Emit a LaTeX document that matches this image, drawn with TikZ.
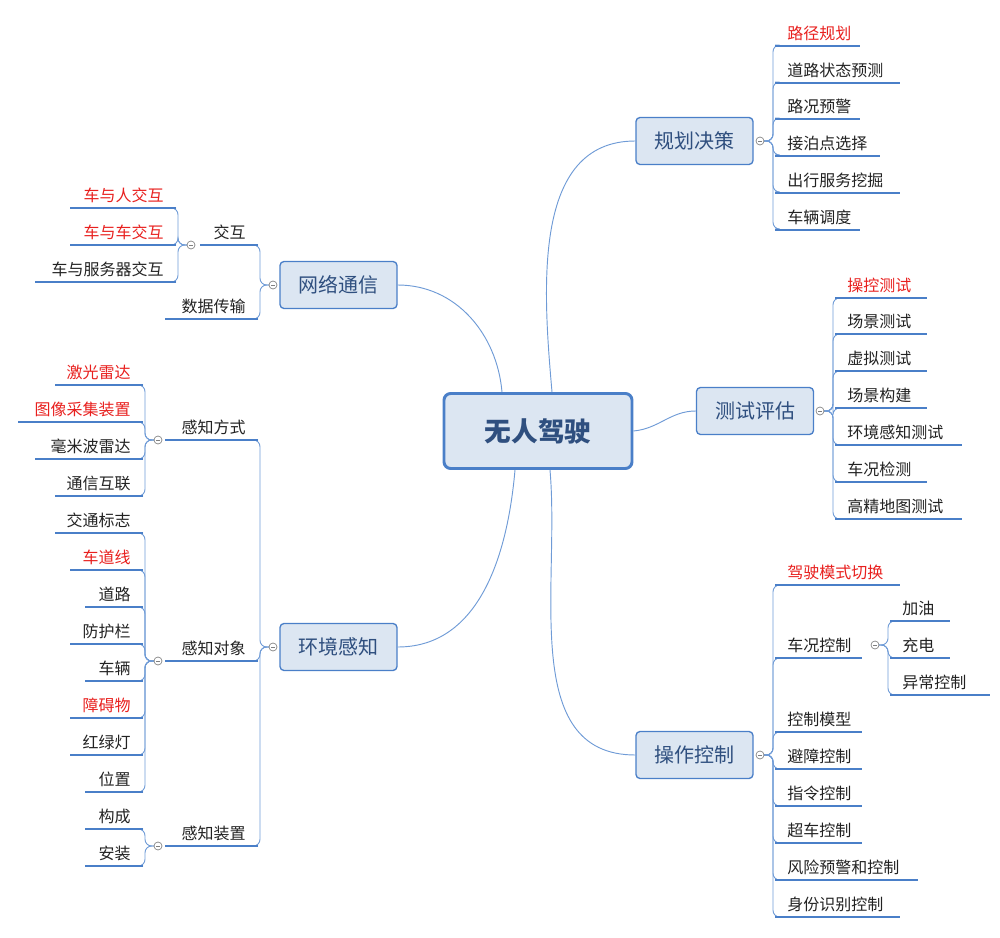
\documentclass[tikz,border=0pt]{standalone}
\usepackage{fontspec}
\setmainfont{Noto Sans CJK SC}
\definecolor{bl}{HTML}{4A7FC8}
\definecolor{tl}{HTML}{6F9BD6}
\definecolor{bf}{HTML}{DCE6F2}
\definecolor{rd}{HTML}{E8201E}
\definecolor{tx}{HTML}{222222}
\definecolor{ct}{HTML}{2F4F7F}
\tikzset{
 leaf/.style={font=\fontsize{12}{14}\selectfont,inner sep=0pt},
 uline/.style={bl,line width=1.3pt},
 trunk/.style={tl,line width=0.7pt,rounded corners=5},
 circ/.style={draw=gray,fill=white,line width=0.5pt},
 branch/.style={draw=bl,fill=bf,rounded corners=3,line width=1pt,minimum width=117*0.75pt,minimum height=47*0.75pt,font=\fontsize{15}{18}\selectfont,text=ct},
}
\newcommand\rleaf[6]{\node[leaf,text=#6,anchor=west] (#1) at (#2+12,#4) {#5};
 \draw[uline] (#2,#4+13) -- (#3,#4+13);}
\newcommand\lleaf[6]{\node[leaf,text=#6,anchor=east] (#1) at (#3-12,#4) {#5};
 \draw[uline] (#2,#4+13) -- (#3,#4+13);}
\newcommand\tr[5]{\draw[trunk] (#1,#2) -- (#3,#2) -- (#3,#5) -- (#4,#5);}
\newcommand\cmin[2]{\draw[circ] (#1,#2) circle (4); \draw[gray,line width=0.4pt] (#1-2,#2)--(#1+2,#2);}
\begin{document}
\begin{tikzpicture}[x=0.75pt,y=-0.75pt]
\useasboundingbox (0,0) rectangle (1000,938);
% center
\node[draw=bl,fill=bf,rounded corners=5,line width=2.2pt,minimum width=188*0.75pt,minimum height=75*0.75pt,font=\fontsize{20}{24}\selectfont\bfseries,text=ct] (c) at (538,431) {无人驾驶};
\node[branch] (plan) at (694.5,141) {规划决策};
\node[branch] (test) at (755,411) {测试评估};
\node[branch] (ctrl) at (694.5,755) {操作控制};
\node[branch] (net) at (338.5,285) {网络通信};
\node[branch] (env) at (338.5,647) {环境感知};
\draw[tl,line width=0.7pt] (552,392) to[out=95,in=180] (plan.west);
\draw[tl,line width=0.7pt] (c.east) to[out=5,in=180] (test.west);
\draw[tl,line width=0.7pt] (550,470) to[out=-85,in=180] (ctrl.west);
\draw[tl,line width=0.7pt] (502,392) to[out=95,in=0] (net.east);
\draw[tl,line width=0.7pt] (515,470) to[out=-95,in=0] (env.east);
% 规划决策
\foreach \y in {45,82,118,155,192,229} {\tr{760}{141}{773}{775}{\y}}
\rleaf{p1}{775}{860}{33}{路径规划}{rd}
\rleaf{p2}{775}{900}{70}{道路状态预测}{tx}
\rleaf{p3}{775}{860}{106}{路况预警}{tx}
\rleaf{p4}{775}{880}{143}{接泊点选择}{tx}
\rleaf{p5}{775}{900}{180}{出行服务挖掘}{tx}
\rleaf{p6}{775}{860}{217}{车辆调度}{tx}
\cmin{760}{141}
% 测试评估
\foreach \y in {298,334,371,408,445,482,519} {\tr{820}{411}{833}{835}{\y}}
\rleaf{t1}{835}{927}{285}{操控测试}{rd}
\rleaf{t2}{835}{927}{321}{场景测试}{tx}
\rleaf{t3}{835}{927}{358}{虚拟测试}{tx}
\rleaf{t4}{835}{927}{395}{场景构建}{tx}
\rleaf{t5}{835}{962}{432}{环境感知测试}{tx}
\rleaf{t6}{835}{927}{469}{车况检测}{tx}
\rleaf{t7}{835}{962}{506}{高精地图测试}{tx}
\cmin{820}{411}
% 操作控制
\foreach \y in {585,658,732,769,806,843,880,917} {\tr{760}{755}{773}{775}{\y}}
\rleaf{o1}{775}{900}{572}{驾驶模式切换}{rd}
\rleaf{o2}{775}{862}{645}{车况控制}{tx}
\rleaf{o3}{775}{862}{719}{控制模型}{tx}
\rleaf{o4}{775}{862}{756}{避障控制}{tx}
\rleaf{o5}{775}{862}{793}{指令控制}{tx}
\rleaf{o6}{775}{862}{830}{超车控制}{tx}
\rleaf{o7}{775}{918}{867}{风险预警和控制}{tx}
\rleaf{o8}{775}{900}{904}{身份识别控制}{tx}
\foreach \y in {621,658,695} {\tr{875}{645}{888}{890}{\y}}
\rleaf{o21}{890}{950}{608}{加油}{tx}
\rleaf{o22}{890}{950}{645}{充电}{tx}
\rleaf{o23}{890}{990}{682}{异常控制}{tx}
\cmin{760}{755}
\cmin{875}{645}
% 网络通信
\foreach \y in {245,319} {\tr{273}{285}{260}{258}{\y}}
\lleaf{n1}{200}{258}{232}{交互}{tx}
\lleaf{n2}{165}{258}{306}{数据传输}{tx}
\foreach \y in {208,245,282} {\tr{191}{245}{178}{176}{\y}}
\lleaf{n11}{70}{176}{195}{车与人交互}{rd}
\lleaf{n12}{70}{176}{232}{车与车交互}{rd}
\lleaf{n13}{35}{176}{269}{车与服务器交互}{tx}
\cmin{273}{285}
\cmin{191}{245}
% 环境感知
\foreach \y in {440,661,846} {\tr{273}{647}{260}{258}{\y}}
\lleaf{e1}{165}{258}{427}{感知方式}{tx}
\lleaf{e2}{165}{258}{648}{感知对象}{tx}
\lleaf{e3}{165}{258}{833}{感知装置}{tx}
\foreach \y in {385,422,459,496} {\tr{158}{440}{145}{143}{\y}}
\lleaf{a1}{55}{143}{372}{激光雷达}{rd}
\lleaf{a2}{18}{143}{409}{图像采集装置}{rd}
\lleaf{a3}{35}{143}{446}{毫米波雷达}{tx}
\lleaf{a4}{55}{143}{483}{通信互联}{tx}
\foreach \y in {533,570,607,644,681,718,755,792} {\tr{158}{661}{145}{143}{\y}}
\lleaf{b1}{55}{143}{520}{交通标志}{tx}
\lleaf{b2}{70}{143}{557}{车道线}{rd}
\lleaf{b3}{85}{143}{594}{道路}{tx}
\lleaf{b4}{70}{143}{631}{防护栏}{tx}
\lleaf{b5}{85}{143}{668}{车辆}{tx}
\lleaf{b6}{70}{143}{705}{障碍物}{rd}
\lleaf{b7}{70}{143}{742}{红绿灯}{tx}
\lleaf{b8}{85}{143}{779}{位置}{tx}
\foreach \y in {829,866} {\tr{158}{846}{145}{143}{\y}}
\lleaf{d1}{85}{143}{816}{构成}{tx}
\lleaf{d2}{85}{143}{853}{安装}{tx}
\cmin{273}{647}
\cmin{158}{440}
\cmin{158}{661}
\cmin{158}{846}
\end{tikzpicture}
\end{document}
